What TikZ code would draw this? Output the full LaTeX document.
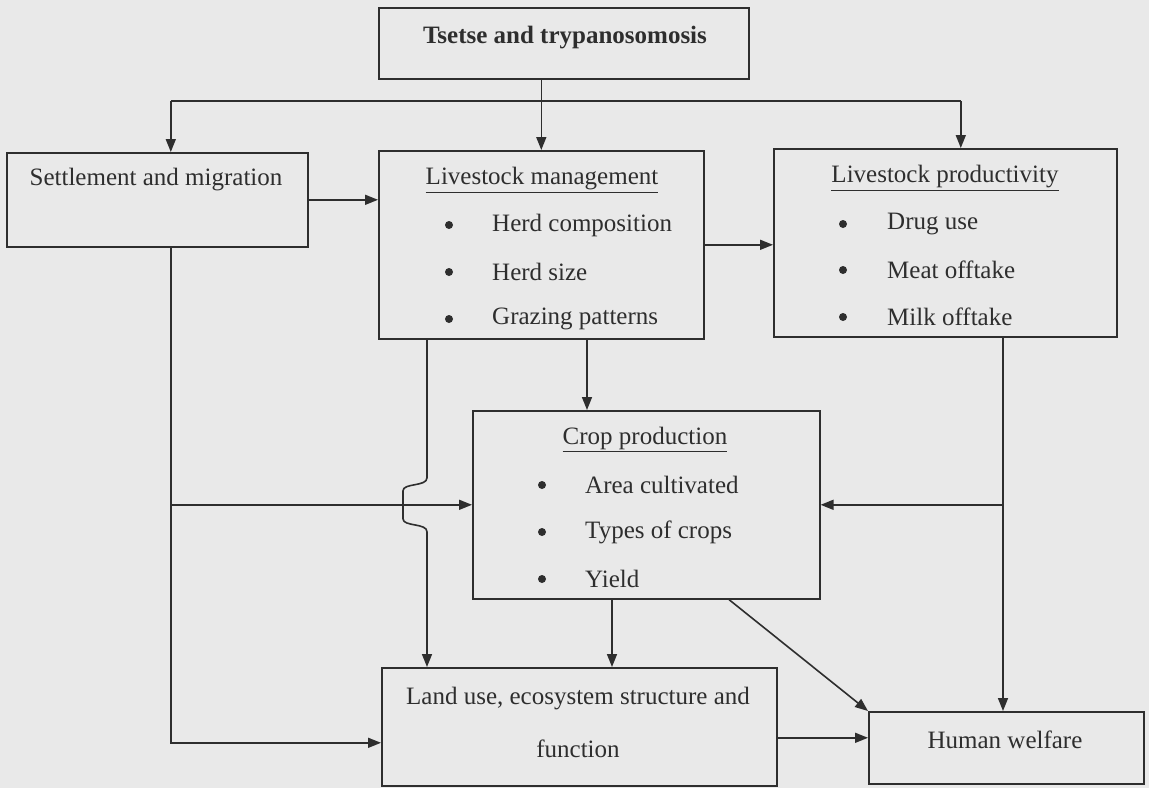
\documentclass[tikz,border=0pt]{standalone}
\usepackage{fontspec}
\setmainfont{Liberation Serif}
\usetikzlibrary{arrows.meta}
\definecolor{paper}{HTML}{E9E9E9}
\definecolor{ink}{HTML}{2E2E2E}
\begin{document}
\begin{tikzpicture}[x=1pt,y=-1pt,
  box/.style={draw=ink, line width=1.6pt, fill=paper, rectangle, inner sep=0pt, anchor=north west},
  line/.style={draw=ink, line width=1.6pt},
  arr/.style={line, -{Triangle[length=13pt,width=10pt]}},
  txt/.style={text=ink, font=\fontsize{25}{30}\selectfont, inner sep=0pt},
  itm/.style={txt, anchor=west},
  bul/.style={circle, fill=ink, inner sep=0pt, minimum size=8pt}]
% page
\fill[paper] (0,0) rectangle (1149,788);
\useasboundingbox (0,0) rectangle (1149,788);

% boxes
\node[box, minimum width=370pt, minimum height=71pt] (ts)   at (378,7)   {};
\node[box, minimum width=301pt, minimum height=94pt] (set)  at (6,152)   {};
\node[box, minimum width=325pt, minimum height=188pt] (lm)  at (378,150) {};
\node[box, minimum width=343pt, minimum height=188pt] (lp)  at (773,148) {};
\node[box, minimum width=347pt, minimum height=188pt] (crop) at (472,410) {};
\node[box, minimum width=395pt, minimum height=118pt] (lu)  at (381,667) {};
\node[box, minimum width=275pt, minimum height=72pt] (hw)   at (868,711) {};

% texts
\node[txt, font=\fontsize{25}{30}\selectfont\bfseries] (tsT) at (565,38) {Tsetse and trypanosomosis};
\node[txt] (setT) at (156,180) {Settlement and migration};

\node[txt] (lmT) at (542,180) {\underline{Livestock management}};
\node[bul] (lmB1) at (449,225) {};
\node[bul] (lmB2) at (449,272) {};
\node[bul] (lmB3) at (449,319) {};
\node[itm] (lmI1) at (492,225) {Herd composition};
\node[itm] (lmI2) at (492,272) {Herd size};
\node[itm] (lmI3) at (492,319) {Grazing patterns};

\node[txt] (lpT) at (945,178) {\underline{Livestock productivity}};
\node[bul] (lpB1) at (843,224) {};
\node[bul] (lpB2) at (843,270) {};
\node[bul] (lpB3) at (843,317) {};
\node[itm] (lpI1) at (887,224) {Drug use};
\node[itm] (lpI2) at (887,270) {Meat offtake};
\node[itm] (lpI3) at (887,317) {Milk offtake};

\node[txt] (cropT) at (645,439) {\underline{Crop production}};
\node[bul] (cropB1) at (542,485) {};
\node[bul] (cropB2) at (542,532) {};
\node[bul] (cropB3) at (542,579) {};
\node[itm] (cropI1) at (585,485) {Area cultivated};
\node[itm] (cropI2) at (585,532) {Types of crops};
\node[itm] (cropI3) at (585,579) {Yield};

\node[txt] (luT1) at (578,699) {Land use, ecosystem structure and};
\node[txt] (luT2) at (578,749) {function};
\node[txt] (hwT) at (1005,740) {Human welfare};

% connection points on the boxes
\coordinate (bus)  at (0,101);
\coordinate (setA) at ([xshift=13.5pt]set.north);
\coordinate (lpA)  at ([xshift=15.5pt]lp.north);
\coordinate (lmA)  at ([xshift=49pt]lm.south west);
\coordinate (lmB)  at ([xshift=209pt]lm.south west);
\coordinate (lpB)  at ([xshift=230pt]lp.south west);
\coordinate (cropA) at ([xshift=140pt]crop.south west);
\coordinate (cropB) at ([xshift=257pt]crop.south west);
\coordinate (luIn) at ([yshift=-16pt]lu.west);
\coordinate (luOut) at ([yshift=-11pt]lu.east);
\coordinate (jmp)  at (lmA |- crop.west);

% tsetse to the three first boxes
\draw[arr] (ts.south -| lm.north) -- (lm.north);
\draw[line] (setA |- bus) -- (lpA |- bus);
\draw[arr] (setA |- bus) -- (setA);
\draw[arr] (lpA |- bus) -- (lpA);

% horizontal links in the upper row
\draw[arr] (set.east) -- (set.east -| lm.west);
\draw[arr] (lm.east) -- (lm.east -| lp.west);

% settlement down to crops and land use
\draw[arr] (setA |- set.south) |- (luIn);
\draw[arr] (setA |- crop.west) -- (crop.west);

% livestock management down to land use, hopping over the crop link
\draw[arr] (lmA) -- ([yshift=27pt]jmp)
  .. controls +(0,9) and +(0,-8) .. ++(-24,13)
  -- ++(0,28)
  .. controls +(0,8) and +(0,-9) .. ++(24,13)
  -- (lmA |- lu.north);
\draw[arr] (lmB) -- (lmB |- crop.north);

% livestock productivity down to crops and welfare
\draw[arr] (lpB) -- (lpB |- hw.north);
\draw[arr] (lpB |- crop.east) -- (crop.east);

% crops to land use and welfare
\draw[arr] (cropA) -- (cropA |- lu.north);
\draw[arr] (cropB) -- (hw.north west);

% land use to welfare
\draw[arr] (luOut) -- (luOut -| hw.west);
\end{tikzpicture}
\end{document}
